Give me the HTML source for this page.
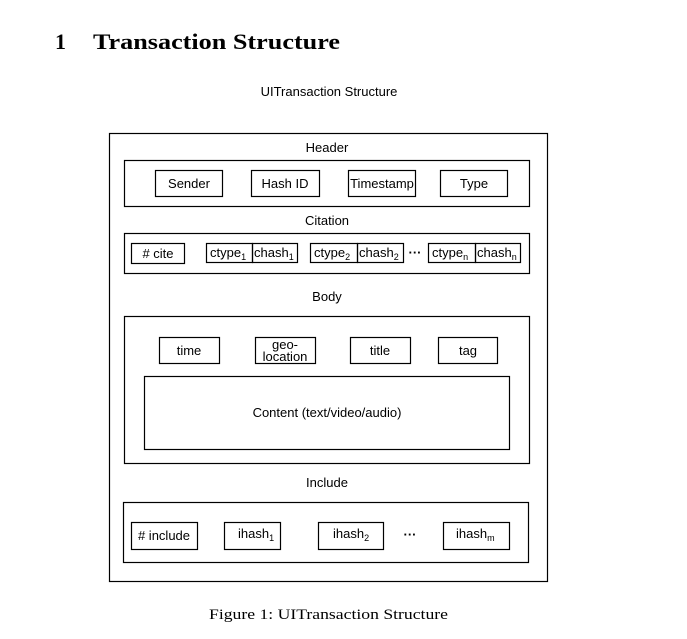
<!DOCTYPE html>
<html><head><meta charset="utf-8"><style>
html,body{margin:0;padding:0;background:#fff;}
svg{display:block;}
.s{font-family:"Liberation Sans",sans-serif;font-size:13px;fill:#000;}
.sub{font-size:9px;}
rect{fill:none;stroke:#000;stroke-width:1.2;}
</style></head><body>
<svg width="687" height="639" viewBox="0 0 687 639" xmlns="http://www.w3.org/2000/svg">
<text x="55" y="49" font-family="Liberation Serif,serif" font-weight="bold" font-size="22">1</text>
<text x="93" y="49" font-family="Liberation Serif,serif" font-weight="bold" font-size="22" textLength="247" lengthAdjust="spacingAndGlyphs">Transaction Structure</text>
<text class="s" x="329" y="96" text-anchor="middle">UITransaction Structure</text>

<rect x="109.5" y="133.5" width="438" height="448"/>
<text class="s" x="327" y="152" text-anchor="middle">Header</text>
<rect x="124.5" y="160.5" width="405" height="46"/>
<rect x="155.5" y="170.5" width="67" height="26"/>
<text class="s" x="189" y="188" text-anchor="middle">Sender</text>
<rect x="251.5" y="170.5" width="68" height="26"/>
<text class="s" x="285" y="188" text-anchor="middle">Hash ID</text>
<rect x="348.5" y="170.5" width="67" height="26"/>
<text class="s" x="382" y="188" text-anchor="middle">Timestamp</text>
<rect x="440.5" y="170.5" width="67" height="26"/>
<text class="s" x="474" y="188" text-anchor="middle">Type</text>

<text class="s" x="327" y="225" text-anchor="middle">Citation</text>
<rect x="124.5" y="233.5" width="405" height="40"/>
<rect x="131.5" y="243.5" width="53" height="20"/>
<text class="s" x="158" y="258" text-anchor="middle"># cite</text>
<rect x="206.5" y="243.5" width="46" height="19"/><rect x="252.5" y="243.5" width="45" height="19"/>
<text class="s" x="210" y="257">ctype<tspan class="sub" dy="3">1</tspan></text>
<text class="s" x="254" y="257">chash<tspan class="sub" dy="3">1</tspan></text>
<rect x="310.5" y="243.5" width="47" height="19"/><rect x="357.5" y="243.5" width="46" height="19"/>
<text class="s" x="314" y="257">ctype<tspan class="sub" dy="3">2</tspan></text>
<text class="s" x="359" y="257">chash<tspan class="sub" dy="3">2</tspan></text>
<text class="s" x="415" y="257" text-anchor="middle" font-weight="bold">···</text>
<rect x="428.5" y="243.5" width="47" height="19"/><rect x="475.5" y="243.5" width="45" height="19"/>
<text class="s" x="432" y="257">ctype<tspan class="sub" dy="3">n</tspan></text>
<text class="s" x="477" y="257">chash<tspan class="sub" dy="3">n</tspan></text>

<text class="s" x="327" y="301" text-anchor="middle">Body</text>
<rect x="124.5" y="316.5" width="405" height="147"/>
<rect x="159.5" y="337.5" width="60" height="26"/>
<text class="s" x="189" y="355" text-anchor="middle">time</text>
<rect x="255.5" y="337.5" width="60" height="26"/>
<text class="s" x="285" y="349" text-anchor="middle">geo-</text>
<text class="s" x="285" y="361" text-anchor="middle">location</text>
<rect x="350.5" y="337.5" width="60" height="26"/>
<text class="s" x="380" y="355" text-anchor="middle">title</text>
<rect x="438.5" y="337.5" width="59" height="26"/>
<text class="s" x="468" y="355" text-anchor="middle">tag</text>
<rect x="144.5" y="376.5" width="365" height="73"/>
<text class="s" x="327" y="417" text-anchor="middle">Content (text/video/audio)</text>

<text class="s" x="327" y="487" text-anchor="middle">Include</text>
<rect x="123.5" y="502.5" width="405" height="60"/>
<rect x="131.5" y="522.5" width="66" height="27"/>
<text class="s" x="164" y="540" text-anchor="middle"># include</text>
<rect x="224.5" y="522.5" width="56" height="27"/>
<text class="s" x="238" y="538">ihash<tspan class="sub" dy="3">1</tspan></text>
<rect x="318.5" y="522.5" width="65" height="27"/>
<text class="s" x="333" y="538">ihash<tspan class="sub" dy="3">2</tspan></text>
<text class="s" x="410" y="539" text-anchor="middle" font-weight="bold">···</text>
<rect x="443.5" y="522.5" width="66" height="27"/>
<text class="s" x="456" y="538">ihash<tspan class="sub" dy="3">m</tspan></text>

<text x="209" y="619" font-family="Liberation Serif,serif" font-size="15" textLength="239" lengthAdjust="spacingAndGlyphs">Figure 1: UITransaction Structure</text>
</svg>
</body></html>
